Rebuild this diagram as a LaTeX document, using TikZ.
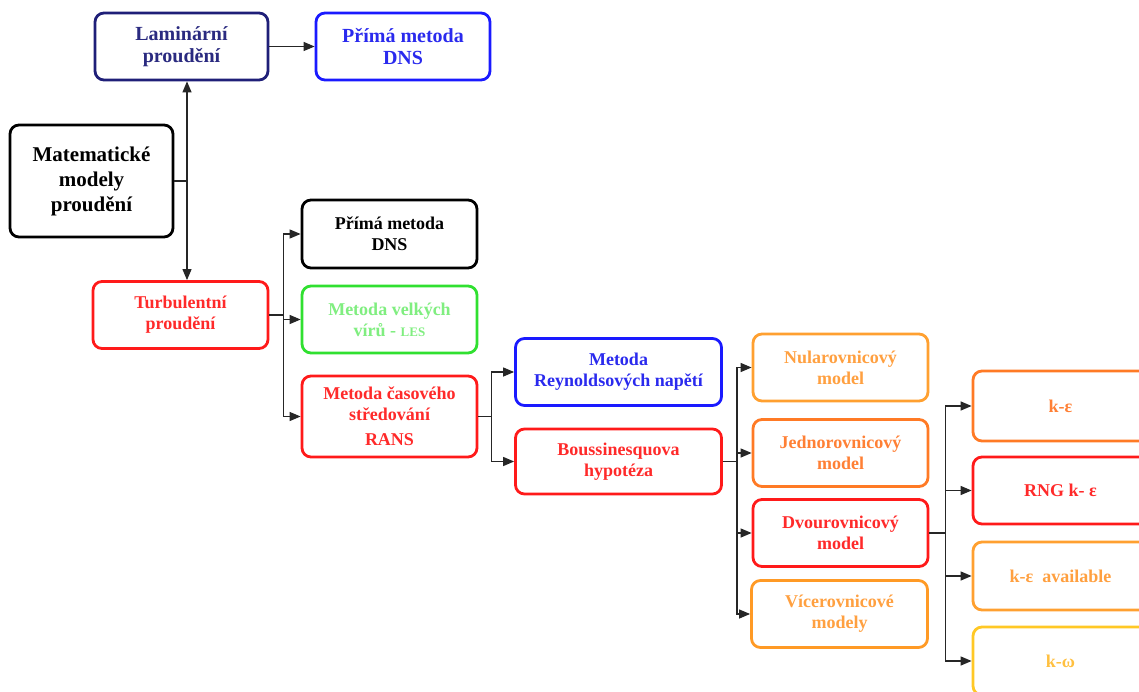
\documentclass[tikz,border=0pt]{standalone}
\usepackage{fontspec}
\setmainfont{Liberation Serif}[BoldFont={Liberation Serif Bold},ItalicFont={Liberation Serif Italic}]
\newfontfamily\tnrbold{Liberation Serif Bold}
\usetikzlibrary{arrows.meta}
\definecolor{navy}{HTML}{1F1F78}
\definecolor{navytxt}{HTML}{2A2A80}
\definecolor{bblue}{HTML}{1A1AFF}
\definecolor{bbluetxt}{HTML}{2A2AEE}
\definecolor{rred}{HTML}{FF1A1A}
\definecolor{rredtxt}{HTML}{FF2A2A}
\definecolor{ggreen}{HTML}{30E030}
\definecolor{lgreen}{HTML}{80EE80}
\definecolor{orA}{HTML}{FFA030}
\definecolor{orAtxt}{HTML}{FFA040}
\definecolor{orB}{HTML}{FF7A25}
\definecolor{orBtxt}{HTML}{FF8035}
\definecolor{orC}{HTML}{FF9A25}
\definecolor{yel}{HTML}{FFC825}
\definecolor{yeltxt}{HTML}{FFC040}
\tikzset{
  box/.style={draw, rounded corners=9pt, line width=2.8pt, align=center,
    font=\tnrbold\fontsize{18}{21}\selectfont, inner sep=2pt},
  bigbox/.style={box, font=\tnrbold\fontsize{20}{22}\selectfont},
  conn/.style={line width=1.2pt, draw=black!85},
  arr/.style={conn, -{Triangle[length=11pt,width=9pt]}},
}
\begin{document}
\begin{tikzpicture}[x=1pt,y=-1pt]
\useasboundingbox (0,0) rectangle (1139,692);
\clip (0,0) rectangle (1139,692);
\fill[white] (0,0) rectangle (1139,692);

% first level
\node[bigbox, draw=navy, text=navytxt, minimum width=173pt, minimum height=67pt] (lam) at (181.5,46.5) {Laminární\\proudění};
\node[bigbox, draw=bblue, text=bbluetxt, minimum width=174pt, minimum height=67pt] (dns1) at (403,46.5) {Přímá metoda\\DNS};
\node[box, draw=black, text=black, minimum width=163pt, minimum height=112pt,
  font=\tnrbold\fontsize{21}{25}\selectfont] (mat) at (91.5,181) {Matematické\\modely\\proudění};
\node[box, draw=rred, text=rredtxt, minimum width=175pt, minimum height=67pt] (turb) at (180.5,315) {Turbulentní\\proudění};

% second level
\node[box, draw=black, text=black, minimum width=175pt, minimum height=68pt] (dns2) at (389.5,234) {Přímá metoda\\DNS};
\node[box, draw=ggreen, text=lgreen, minimum width=175pt, minimum height=67pt] (les) at (389.5,319.5) {Metoda velkých\\vírů - {\fontsize{13}{15}\selectfont LES}};
\node[box, draw=rred, text=rredtxt, minimum width=175pt, minimum height=81pt] (rans) at (389.5,416.5) {Metoda časového\\středování\\[4pt]RANS};

% third level
\node[box, draw=bblue, text=bbluetxt, minimum width=206pt, minimum height=67pt] (rey) at (618.5,372) {Metoda\\Reynoldsových napětí};
\node[box, draw=rred, text=rredtxt, minimum width=206pt, minimum height=65pt] (bou) at (618.5,461.5) {Boussinesquova\\hypotéza};

% fourth level
\node[box, draw=orA, text=orAtxt, minimum width=175pt, minimum height=67pt] (nula) at (840.5,367.5) {Nularovnicový\\model};
\node[box, draw=orB, text=orBtxt, minimum width=175pt, minimum height=67pt] (jedno) at (840.5,453) {Jednorovnicový\\model};
\node[box, draw=rred, text=rredtxt, minimum width=175pt, minimum height=67pt] (dvou) at (840.5,533) {Dvourovnicový\\model};
\node[box, draw=orC, text=orAtxt, minimum width=176pt, minimum height=67pt] (vice) at (839.5,614) {Vícerovnicové\\modely};

% fifth level
\node[box, draw=orB, text=orBtxt, minimum width=175pt, minimum height=70pt] (ke) at (1060.5,406) {k-ε};
\node[box, draw=rred, text=rredtxt, minimum width=175pt, minimum height=67pt] (rng) at (1060.5,490.5) {RNG k- ε};
\node[box, draw=orA, text=orAtxt, minimum width=175pt, minimum height=68pt] (avail) at (1060.5,576) {k-ε\ \ available};
\node[box, draw=yel, text=yeltxt, minimum width=175pt, minimum height=68pt] (kw) at (1060.5,661) {k-ω};

% connectors
\coordinate (jA) at (187,181);
\draw[conn] (mat.east) -- (jA);
\draw[arr] (jA) -- (jA |- lam.south);
\draw[arr] (jA) -- (jA |- turb.north);
\draw[arr] (lam.east) -- (dns1.west);

\draw[arr] (turb.east) -- ++(14,0) |- (dns2.west);
\draw[arr] (turb.east) -- ++(14,0) |- (les.west);
\draw[arr] (turb.east) -- ++(14,0) |- (rans.west);

\draw[arr] (rans.east) -- ++(13,0) |- (rey.west);
\draw[arr] (rans.east) -- ++(13,0) |- (bou.west);

\draw[arr] (bou.east) -- ++(14,0) |- (nula.west);
\draw[arr] (bou.east) -- ++(14,0) |- (jedno.west);
\draw[arr] (bou.east) -- ++(14,0) |- (dvou.west);
\draw[arr] (bou.east) -- ++(14,0) |- (vice.west);

\draw[arr] (dvou.east) -- ++(16,0) |- (ke.west);
\draw[arr] (dvou.east) -- ++(16,0) |- (rng.west);
\draw[arr] (dvou.east) -- ++(16,0) |- (avail.west);
\draw[arr] (dvou.east) -- ++(16,0) |- (kw.west);
\end{tikzpicture}
\end{document}
